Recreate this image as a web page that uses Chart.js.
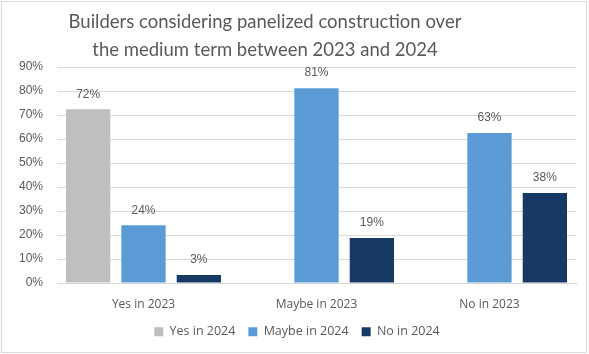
<!DOCTYPE html>
<html>
<head>
<meta charset="utf-8">
<script src="https://cdn.jsdelivr.net/npm/chart.js@4.4.0/dist/chart.umd.min.js"></script>
<style>
  body { margin: 0; background: #fff; }
  #wrap { width: 589px; height: 354px; position: relative; }
</style>
</head>
<body>
<div id="wrap"><canvas id="chart" width="589" height="354"></canvas></div>
<script>
// chart data
const categories = ['Yes in 2023', 'Maybe in 2023', 'No in 2023'];
const seriesNames = ['Yes in 2024', 'Maybe in 2024', 'No in 2024'];
const yesIn2024 = [72.4, null, null];
const maybeIn2024 = [24.1, 81.2, 62.5];
const noIn2024 = [3.4, 18.8, 37.5];
const yTicks = [0, 10, 20, 30, 40, 50, 60, 70, 80, 90];
const titleLines = ['Builders considering panelized construction over', 'the medium term between 2023 and 2024'];

const colors = ['#BFBFBF', '#5B9BD5', '#173A64'];
const textColor = '#595959';

// white background + thin frame round the chart, title a bit left of centre like the original
const framePlugin = {
    id: 'frame',
    beforeDraw(chart) {
        const ctx = chart.ctx;
        ctx.save();
        ctx.fillStyle = '#fff';
        ctx.fillRect(0, 0, chart.width, chart.height);
        ctx.strokeStyle = '#D9D9D9';
        ctx.lineWidth = 1;
        ctx.strokeRect(1.5, 1.5, chart.width - 4, chart.height - 3);
        ctx.restore();
    },
    afterDraw(chart) {
        const ctx = chart.ctx;
        ctx.save();
        ctx.font = '18.5px Lato, sans-serif';
        ctx.fillStyle = textColor;
        ctx.textAlign = 'center';
        ctx.textBaseline = 'middle';
        titleLines.forEach((t, i) => ctx.fillText(t, 265, 22 + i * 28));
        ctx.restore();
    }
};

// value labels above each bar
const labelPlugin = {
    id: 'barLabels',
    afterDatasetsDraw(chart) {
        const ctx = chart.ctx;
        ctx.save();
        ctx.font = '12px "Liberation Sans", Arial, sans-serif';
        ctx.fillStyle = textColor;
        ctx.textAlign = 'center';
        ctx.textBaseline = 'middle';
        chart.data.datasets.forEach((ds, i) => {
            chart.getDatasetMeta(i).data.forEach((bar, j) => {
                const v = ds.data[j];
                if (v == null) return;
                ctx.fillText(Math.round(v) + '%', bar.x, bar.y - 15);
            });
        });
        ctx.restore();
    }
};

const data = {
    labels: categories,
    datasets: [yesIn2024, maybeIn2024, noIn2024].map((vals, i) => ({
        label: seriesNames[i],
        data: vals,
        backgroundColor: colors[i],
        categoryPercentage: 0.96,
        barPercentage: 0.8
    }))
};

new Chart(document.getElementById('chart'), {
    type: 'bar',
    data: data,
    plugins: [framePlugin, labelPlugin],
    options: {
        responsive: false,
        animation: false,
        layout: { padding: { left: 18, right: 13, top: 67, bottom: 6 } },
        plugins: {
            title: { display: false },
            legend: {
                position: 'bottom',
                labels: {
                    color: textColor,
                    font: { family: '"Open Sans", sans-serif', size: 12.5 },
                    boxWidth: 9,
                    boxHeight: 9,
                    padding: 13
                }
            },
            tooltip: { enabled: false }
        },
        scales: {
            x: {
                grid: { display: false },
                border: { color: '#D9D9D9' },
                afterFit(scale) { scale.height -= 5; },
                ticks: {
                    color: textColor,
                    font: { family: '"Open Sans", sans-serif', size: 12 },
                    padding: 6
                }
            },
            y: {
                min: 0,
                max: 90,
                afterFit(scale) { scale.width = 39; },
                afterBuildTicks(scale) { scale.ticks = yTicks.map(v => ({ value: v })); },
                grid: { color: '#D9D9D9', drawTicks: false },
                border: { display: false },
                ticks: {
                    color: textColor,
                    font: { family: '"Liberation Sans", Arial, sans-serif', size: 12 },
                    padding: 14,
                    callback: v => v + '%'
                }
            }
        }
    }
});
</script>
</body>
</html>
